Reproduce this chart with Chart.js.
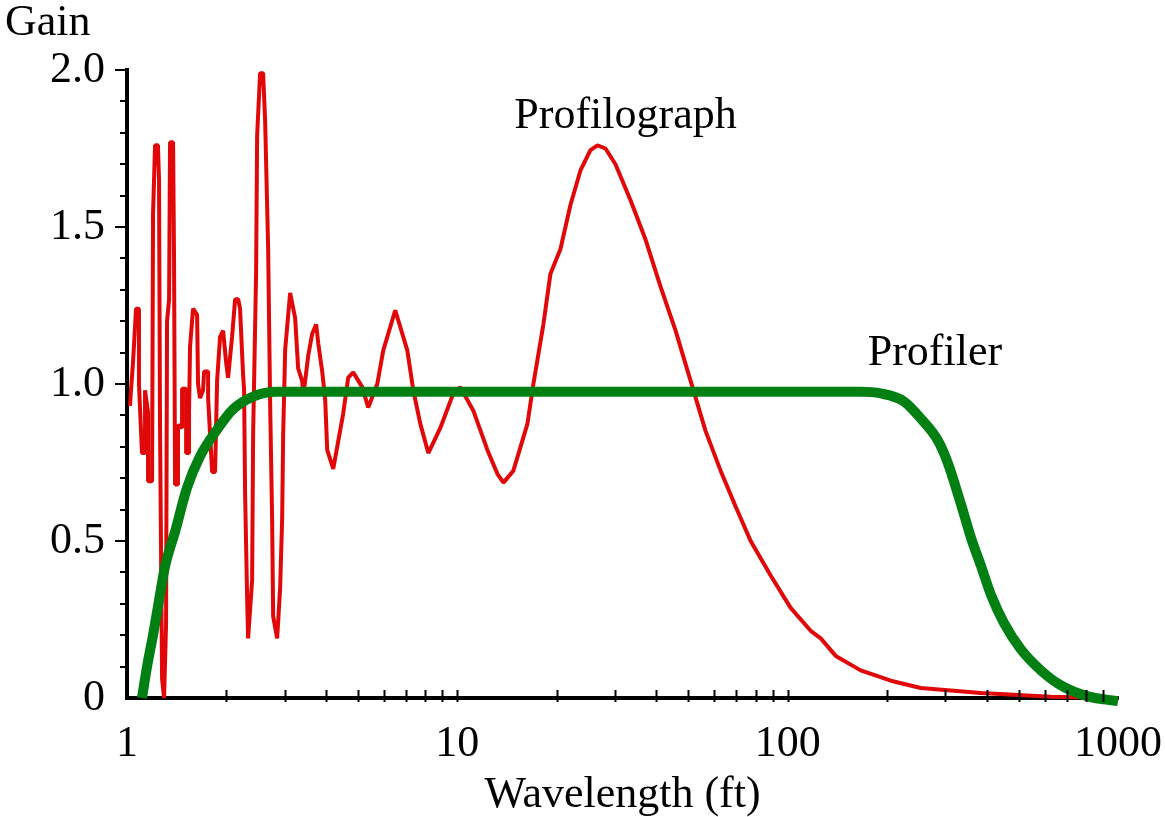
<!DOCTYPE html>
<html>
<head>
<meta charset="utf-8">
<title>Gain vs Wavelength</title>
<script src="https://cdn.jsdelivr.net/npm/chart.js@4.4.0/dist/chart.umd.min.js"></script>
<style>
  html, body { margin: 0; padding: 0; background: #fff; }
  #wrap { width: 1165px; height: 817px; position: relative; }
</style>
</head>
<body>
<div id="wrap"><canvas id="gainChart"></canvas></div>
<script>
// Profilograph response, wavelength (ft) and gain
const profilographX = [
  1.021, 1.028, 1.043, 1.065, 1.087, 1.087, 1.110, 1.134, 1.134, 1.158,
  1.158, 1.191, 1.199, 1.216, 1.241, 1.250, 1.259, 1.277, 1.295, 1.313,
  1.322, 1.341, 1.350, 1.379, 1.388, 1.398, 1.427, 1.427, 1.468, 1.468,
  1.510, 1.510, 1.541, 1.541, 1.552, 1.585, 1.630, 1.641, 1.664, 1.699,
  1.712, 1.760, 1.760, 1.810, 1.848, 1.874, 1.913, 1.954, 1.995, 2.023,
  2.080, 2.125, 2.170, 2.199, 2.246, 2.262, 2.278, 2.310, 2.326, 2.392,
  2.409, 2.460, 2.477, 2.529, 2.583, 2.619, 2.675, 2.713, 2.750, 2.770,
  2.848, 2.908, 2.949, 2.970, 3.012, 3.118, 3.229, 3.297, 3.390, 3.415,
  3.463, 3.536, 3.636, 3.739, 3.792, 3.899, 3.981, 4.037, 4.210, 4.512,
  4.673, 4.840, 5.154, 5.374, 5.723, 5.968, 6.488, 7.056, 7.357, 7.726,
  8.170, 8.882, 9.725, 10.21, 11.18, 12.33, 13.22, 13.79, 14.78, 16.30,
  16.99, 18.22, 19.13, 20.52, 22.00, 23.59, 25.29, 26.56, 28.09, 30.11,
  33.44, 37.13, 41.23, 45.78, 50.83, 56.44, 62.66, 69.57, 77.26, 88.82,
  102.1, 117.4, 125.9, 139.8, 166.4, 205.2, 252.9, 385, 626, 1000
];
const profilographGain = [
  0.93, 0.98, 1.07, 1.24, 1.24, 1.00, 0.78, 0.78, 0.98, 0.91,
  0.69, 0.69, 1.54, 1.76, 1.76, 1.65, 0.86, 0.06, 0.00, 0.235,
  1.20, 1.27, 1.77, 1.77, 1.40, 0.68, 0.68, 0.87, 0.86, 0.985,
  0.985, 0.78, 0.78, 0.91, 1.12, 1.24, 1.22, 1.00, 0.955, 0.98,
  1.04, 1.04, 0.955, 0.72, 0.72, 1.01, 1.15, 1.17, 1.07, 1.02,
  1.15, 1.27, 1.27, 1.24, 1.03, 0.98, 0.65, 0.32, 0.19, 0.375,
  0.84, 1.36, 1.79, 1.99, 1.99, 1.84, 1.43, 0.93, 0.57, 0.26,
  0.19, 0.35, 0.57, 0.84, 1.11, 1.29, 1.21, 1.05, 1.01, 0.97,
  1.01, 1.09, 1.16, 1.19, 1.13, 1.04, 0.95, 0.79, 0.73, 0.905,
  1.02, 1.037, 0.99, 0.925, 1.00, 1.107, 1.235, 1.107, 0.98, 0.873,
  0.78, 0.86, 0.97, 0.99, 0.915, 0.79, 0.714, 0.686, 0.724, 0.873,
  1.00, 1.19, 1.35, 1.43, 1.57, 1.68, 1.745, 1.76, 1.75, 1.70,
  1.585, 1.46, 1.31, 1.17, 1.01, 0.85, 0.724, 0.61, 0.50, 0.39,
  0.287, 0.214, 0.19, 0.134, 0.088, 0.055, 0.032, 0.016, 0.004, 0
];

// Profiler response
const profilerX = [
  1.110, 1.150, 1.199, 1.259, 1.304, 1.398, 1.520, 1.664, 1.874, 2.096,
  2.409, 2.848, 166.4, 191.3, 224.6, 253, 285, 305, 334, 359,
  385, 412, 451, 508, 584, 672, 811, 1000
];
const profilerGain = [
  0, 0.10, 0.20, 0.33, 0.42, 0.53, 0.67, 0.77, 0.855, 0.92,
  0.96, 0.975, 0.975, 0.97, 0.945, 0.89, 0.82, 0.75, 0.62, 0.51,
  0.42, 0.33, 0.24, 0.155, 0.088, 0.04, 0.005, -0.01
];

const xLabelTicks = [1, 10, 100, 1000];
const xMarkTicks = [2, 3, 4, 5, 6, 7, 8, 9, 10, 20, 30, 40, 50, 60, 70, 80, 90, 100,
  200, 300, 400, 500, 600, 700, 800, 900];
const yLabelTicks = [0, 0.5, 1.0, 1.5, 2.0];
const yMajorMarks = [0.5, 1.0, 1.5, 2.0];
const yMinorMarks = [0.1, 0.2, 0.3, 0.4, 0.6, 0.7, 0.8, 0.9, 1.1, 1.2, 1.3, 1.4,
  1.6, 1.7, 1.8, 1.9];

const FONT = '"Liberation Serif", "Times New Roman", serif';

function toPoints(xs, ys) {
  return xs.map((x, i) => ({ x: x, y: ys[i] }));
}

// tick marks, axis title and curve labels
const decor = {
  id: 'decor',
  afterDatasetsDraw(chart) {
    const { ctx, chartArea, scales } = chart;
    const x = scales.x, y = scales.y;
    ctx.save();
    ctx.strokeStyle = '#000';
    ctx.lineWidth = 2;
    ctx.beginPath();
    xMarkTicks.forEach(v => {
      const px = Math.round(x.getPixelForValue(v)) + 0.5;
      ctx.moveTo(px, chartArea.bottom - 8);
      ctx.lineTo(px, chartArea.bottom + 4);
    });
    yMajorMarks.forEach(v => {
      const py = Math.round(y.getPixelForValue(v));
      ctx.moveTo(chartArea.left - 12, py);
      ctx.lineTo(chartArea.left, py);
    });
    yMinorMarks.forEach(v => {
      const py = Math.round(y.getPixelForValue(v));
      ctx.moveTo(chartArea.left - 7, py);
      ctx.lineTo(chartArea.left, py);
    });
    ctx.stroke();

    ctx.fillStyle = '#000';
    ctx.font = '44px ' + FONT;
    ctx.textBaseline = 'alphabetic';
    ctx.textAlign = 'left';
    ctx.fillText('Gain', 5, chartArea.top - 35);

    ctx.textAlign = 'center';
    ctx.fillText('Profilograph', x.getPixelForValue(32.3), y.getPixelForValue(1.815));
    ctx.fillText('Profiler', x.getPixelForValue(279), y.getPixelForValue(1.06));
    ctx.restore();
  }
};

new Chart(document.getElementById('gainChart'), {
  type: 'line',
  data: {
    datasets: [
      {
        label: 'Profiler',
        data: toPoints(profilerX, profilerGain),
        borderColor: '#008012',
        borderWidth: 10,
        pointRadius: 0,
        cubicInterpolationMode: 'monotone',
        fill: false,
        clip: 8
      },
      {
        label: 'Profilograph',
        data: toPoints(profilographX, profilographGain),
        borderColor: '#e00808',
        borderWidth: 4,
        borderJoinStyle: 'bevel',
        pointRadius: 0,
        tension: 0,
        fill: false,
        clip: 8
      }
    ]
  },
  options: {
    responsive: true,
    maintainAspectRatio: false,
    animation: false,
    layout: { padding: { left: 0, right: 47, top: 70, bottom: 0 } },
    plugins: {
      legend: { display: false },
      tooltip: { enabled: false }
    },
    scales: {
      x: {
        type: 'logarithmic',
        min: 1,
        max: 1000,
        afterBuildTicks: (scale) => { scale.ticks = xLabelTicks.map(v => ({ value: v })); },
        afterFit: (scale) => {
          scale.height = 119;
          scale.paddingLeft = 0;
          scale.paddingRight = 0;
        },
        grid: { display: false, drawTicks: false },
        border: { display: true, color: '#000', width: 4 },
        ticks: {
          autoSkip: false,
          maxRotation: 0,
          padding: 20,
          color: '#000',
          font: { family: FONT, size: 44 },
          callback: (v) => String(v)
        },
        title: {
          display: true,
          text: 'Wavelength (ft)',
          color: '#000',
          font: { family: FONT, size: 44 },
          padding: { top: 0, bottom: -5 }
        }
      },
      y: {
        type: 'linear',
        min: 0,
        max: 2,
        afterBuildTicks: (scale) => { scale.ticks = yLabelTicks.map(v => ({ value: v })); },
        afterFit: (scale) => {
          scale.width = 127;
          scale.paddingTop = 0;
          scale.paddingBottom = 0;
        },
        grid: { display: false, drawTicks: false },
        border: { display: true, color: '#000', width: 4 },
        ticks: {
          padding: 22,
          color: '#000',
          font: { family: FONT, size: 44 },
          callback: (v) => (v === 0 ? '0' : v.toFixed(1))
        }
      }
    }
  },
  plugins: [decor]
});
</script>
</body>
</html>
